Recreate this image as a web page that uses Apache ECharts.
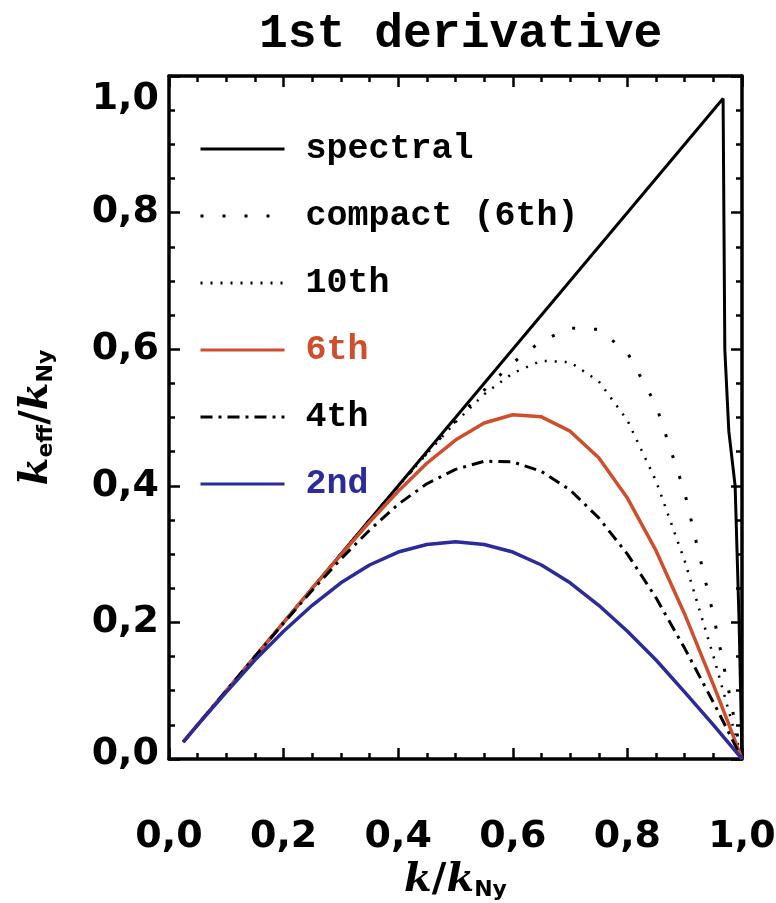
<!DOCTYPE html>
<html>
<head>
<meta charset="utf-8">
<script src="https://cdn.jsdelivr.net/npm/echarts@6/dist/echarts.min.js"></script>
<style>
  html, body { margin: 0; padding: 0; background: #fff; }
  #chart { width: 776px; height: 903px; }
</style>
</head>
<body>
<div id="chart"></div>
<script>
// wavenumber samples, k / k_Ny
var kVals = [0.025, 0.05, 0.1, 0.15, 0.2, 0.25, 0.3, 0.35, 0.4, 0.45, 0.5,
  0.55, 0.6, 0.65, 0.7, 0.75, 0.8, 0.85, 0.9, 0.95, 0.975, 1.0];

// k_eff / k_Ny
var second = [0.025, 0.050, 0.098, 0.145, 0.187, 0.225, 0.258, 0.284, 0.303, 0.314, 0.318,
  0.314, 0.303, 0.284, 0.258, 0.225, 0.187, 0.145, 0.098, 0.050, 0.025, 0];
var fourth = [0.025, 0.050, 0.100, 0.150, 0.199, 0.247, 0.293, 0.335, 0.373, 0.403, 0.424,
  0.436, 0.435, 0.421, 0.394, 0.353, 0.300, 0.236, 0.162, 0.083, 0.042, 0];
var sixth = [0.025, 0.050, 0.100, 0.150, 0.200, 0.250, 0.299, 0.347, 0.392, 0.433, 0.467,
  0.492, 0.504, 0.501, 0.480, 0.441, 0.382, 0.305, 0.212, 0.109, 0.055, 0];
var tenth = [0.025, 0.050, 0.100, 0.150, 0.200, 0.250, 0.300, 0.350, 0.399, 0.447, 0.493,
  0.534, 0.565, 0.583, 0.581, 0.553, 0.496, 0.407, 0.290, 0.151, 0.076, 0];
var compact = [0.025, 0.050, 0.100, 0.150, 0.200, 0.250, 0.300, 0.350, 0.399, 0.448, 0.495,
  0.540, 0.580, 0.612, 0.631, 0.629, 0.595, 0.518, 0.390, 0.211, 0.108, 0];

// spectral: straight line, then the drop at the end
var spectralK = [0.025, 0.967, 0.970, 0.977, 0.988, 0.995, 1.0];
var spectralV = [0.025, 0.967, 0.600, 0.480, 0.400, 0.200, 0];

var legendNames = ['spectral', 'compact (6th)', '10th', '6th', '4th', '2nd'];

var ORANGE = '#cf4f2c';
var BLUE = '#2b2b9c';
var LABEL_FONT = 'DejaVu Sans';
var MONO = 'Liberation Mono';

function pairs(xs, ys) {
  var out = [];
  for (var i = 0; i < xs.length; i++) {
    out.push([xs[i], ys[i]]);
  }
  return out;
}

function fmt(v) {
  return v.toFixed(1).replace('.', ',');
}

function axisBase(pos, isX, showLabel) {
  var ax = {
    type: 'value',
    position: pos,
    min: 0,
    max: 1,
    interval: 0.2,
    axisLine: { show: true, onZero: false, lineStyle: { color: '#000', width: 3.5 } },
    axisTick: { show: true, inside: true, length: 11, lineStyle: { color: '#000', width: 2.5 } },
    minorTick: { show: true, splitNumber: 4, length: 6, lineStyle: { color: '#000', width: 2.5 } },
    splitLine: { show: false },
    axisLabel: { show: false }
  };
  if (showLabel) {
    ax.axisLabel = {
      show: true,
      color: '#000',
      fontFamily: LABEL_FONT,
      fontWeight: 'bold',
      fontSize: 38,
      margin: isX ? 59 : 10,
      formatter: function(v) {
        if (!isX && v === 1) return '{top|' + fmt(v) + '}';
        if (!isX && v === 0) return '{bot|' + fmt(v) + '}';
        return fmt(v);
      },
      rich: {
        top: { fontFamily: LABEL_FONT, fontWeight: 'bold', fontSize: 38, color: '#000', padding: [46, 0, 0, 0] },
        bot: { fontFamily: LABEL_FONT, fontWeight: 'bold', fontSize: 38, color: '#000', padding: [0, 0, 10, 0] }
      }
    };
  }
  return ax;
}

var nameStyle = {
  rich: {
    k: { fontFamily: 'DejaVu Serif', fontStyle: 'italic', fontWeight: 'bold', fontSize: 40, color: '#000' },
    sl: { fontFamily: 'DejaVu Serif', fontWeight: 'bold', fontSize: 40, color: '#000' },
    s: { fontFamily: LABEL_FONT, fontWeight: 'bold', fontSize: 22, color: '#000', padding: [18, 0, 0, 0] }
  }
};

var xBottom = axisBase('bottom', true, true);
xBottom.name = '{k|k}{sl|/}{k|k}{s|Ny}';
xBottom.nameLocation = 'middle';
xBottom.nameGap = 100;
xBottom.nameTextStyle = nameStyle;
var xTop = axisBase('top', true, false);

var yLeft = axisBase('left', false, true);
yLeft.name = '{k|k}{s|eff}{sl|/}{k|k}{s|Ny}';
yLeft.nameLocation = 'middle';
yLeft.nameGap = 112;
yLeft.nameRotate = 90;
yLeft.nameTextStyle = nameStyle;
var yRight = axisBase('right', false, false);

var chart = echarts.init(document.getElementById('chart'));

var option = {
  backgroundColor: '#fff',
  animation: false,
  title: {
    text: '1st derivative',
    left: 254,
    top: 6,
    textStyle: { fontFamily: MONO, fontWeight: 'bold', fontSize: 48, color: '#000' }
  },
  grid: {
    left: 169,
    right: 34,
    top: 76,
    bottom: 144,
    containLabel: false,
    outerBoundsMode: 'none'
  },
  legend: {
    orient: 'vertical',
    left: 194,
    top: 124,
    itemWidth: 84,
    itemHeight: 20,
    itemGap: 27,
    selectedMode: false,
    itemStyle: { opacity: 0 },
    lineStyle: { width: 3 },
    textStyle: {
      fontFamily: MONO,
      fontWeight: 'bold',
      fontSize: 35,
      lineHeight: 40,
      color: '#000',
      padding: [0, 0, 0, 16]
    },
    data: [
      { name: 'spectral' },
      { name: 'compact (6th)' },
      { name: '10th' },
      { name: '6th', textStyle: { color: ORANGE } },
      { name: '4th' },
      { name: '2nd', textStyle: { color: BLUE } }
    ]
  },
  xAxis: [xBottom, xTop],
  yAxis: [yLeft, yRight],
  series: [
    {
      name: legendNames[0], type: 'line', symbol: 'none',
      data: pairs(spectralK, spectralV),
      lineStyle: { color: '#000', width: 3 }, itemStyle: { color: '#000' }
    },
    {
      name: legendNames[1], type: 'line', symbol: 'none',
      data: pairs(kVals, compact),
      lineStyle: { color: '#000', width: 3, type: [3, 19] }, itemStyle: { color: '#000' }
    },
    {
      name: legendNames[2], type: 'line', symbol: 'none',
      data: pairs(kVals, tenth),
      lineStyle: { color: '#000', width: 2.5, type: [2, 8] }, itemStyle: { color: '#000' }
    },
    {
      name: legendNames[3], type: 'line', symbol: 'none',
      data: pairs(kVals, sixth),
      lineStyle: { color: ORANGE, width: 3.5 }, itemStyle: { color: ORANGE }
    },
    {
      name: legendNames[4], type: 'line', symbol: 'none',
      data: pairs(kVals, fourth),
      lineStyle: { color: '#000', width: 3, type: [12, 6, 3, 6] }, itemStyle: { color: '#000' }
    },
    {
      name: legendNames[5], type: 'line', symbol: 'none',
      data: pairs(kVals, second),
      lineStyle: { color: BLUE, width: 3.5 }, itemStyle: { color: BLUE }
    }
  ]
};

chart.setOption(option);
</script>
</body>
</html>
